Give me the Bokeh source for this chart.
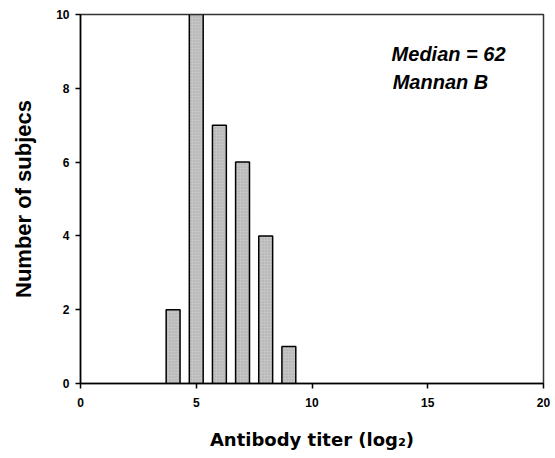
from bokeh.plotting import figure
from bokeh.models import Label, Range1d, FixedTicker
from bokeh.embed import file_html
from bokeh.resources import INLINE

titers = [4, 5, 6, 7, 8, 9]
counts = [2, 10, 7, 6, 4, 1]
x_ticks = [0, 5, 10, 15, 20]
y_ticks = [0, 2, 4, 6, 8, 10]

p = figure(width=555, height=458, output_backend="svg", toolbar_location=None,
           x_range=Range1d(0, 20), y_range=Range1d(0, 10),
           min_border_left=80, min_border_right=12, min_border_top=14, min_border_bottom=75)
p.xgrid.visible = False
p.ygrid.visible = False
p.background_fill_color = "white"
p.border_fill_color = "white"
p.outline_line_color = "#333333"
p.outline_line_width = 1.5

p.vbar(x=titers, top=counts, width=0.6, bottom=0,
       fill_color="#c4c4c4", line_color="black", line_width=1.5,
       hatch_pattern=".", hatch_color="#888888", hatch_scale=3, hatch_alpha=0.5)

font = "Liberation Sans"
for ax in (p.xaxis, p.yaxis):
    ax.major_label_text_font = font
    ax.major_label_text_font_style = "bold"
    ax.major_label_text_font_size = "12px"
    ax.major_label_text_color = "black"
    ax.axis_line_color = "black"
    ax.axis_line_width = 1.5
    ax.major_tick_line_color = "black"
    ax.major_tick_line_width = 1.5
    ax.major_tick_out = 5
    ax.major_tick_in = 0
    ax.minor_tick_line_color = None

p.xaxis.ticker = FixedTicker(ticks=x_ticks)
p.yaxis.ticker = FixedTicker(ticks=y_ticks)
p.xaxis.major_label_standoff = 9
p.yaxis.major_label_standoff = 6

p.yaxis.axis_label = "Number of subjecs"
p.yaxis.axis_label_text_font = font
p.yaxis.axis_label_text_font_style = "bold"
p.yaxis.axis_label_text_font_size = "22px"
p.yaxis.axis_label_text_color = "black"
p.yaxis.axis_label_standoff = 17

p.xaxis.axis_label = "Antibody titer (log\u2082)"
p.xaxis.axis_label_text_font = "DejaVu Sans"
p.xaxis.axis_label_text_font_style = "bold"
p.xaxis.axis_label_text_font_size = "18px"
p.xaxis.axis_label_text_color = "black"
p.xaxis.axis_label_standoff = 19

p.add_layout(Label(x=15.9, y=8.92, text="Median = 62", text_font=font, text_font_style="bold italic",
                   text_font_size="20px", text_align="center", text_baseline="middle", text_color="black"))
p.add_layout(Label(x=15.55, y=8.16, text="Mannan B", text_font=font, text_font_style="bold italic",
                   text_font_size="20px", text_align="center", text_baseline="middle", text_color="black"))

open("out.html", "w").write(file_html(p, INLINE))
